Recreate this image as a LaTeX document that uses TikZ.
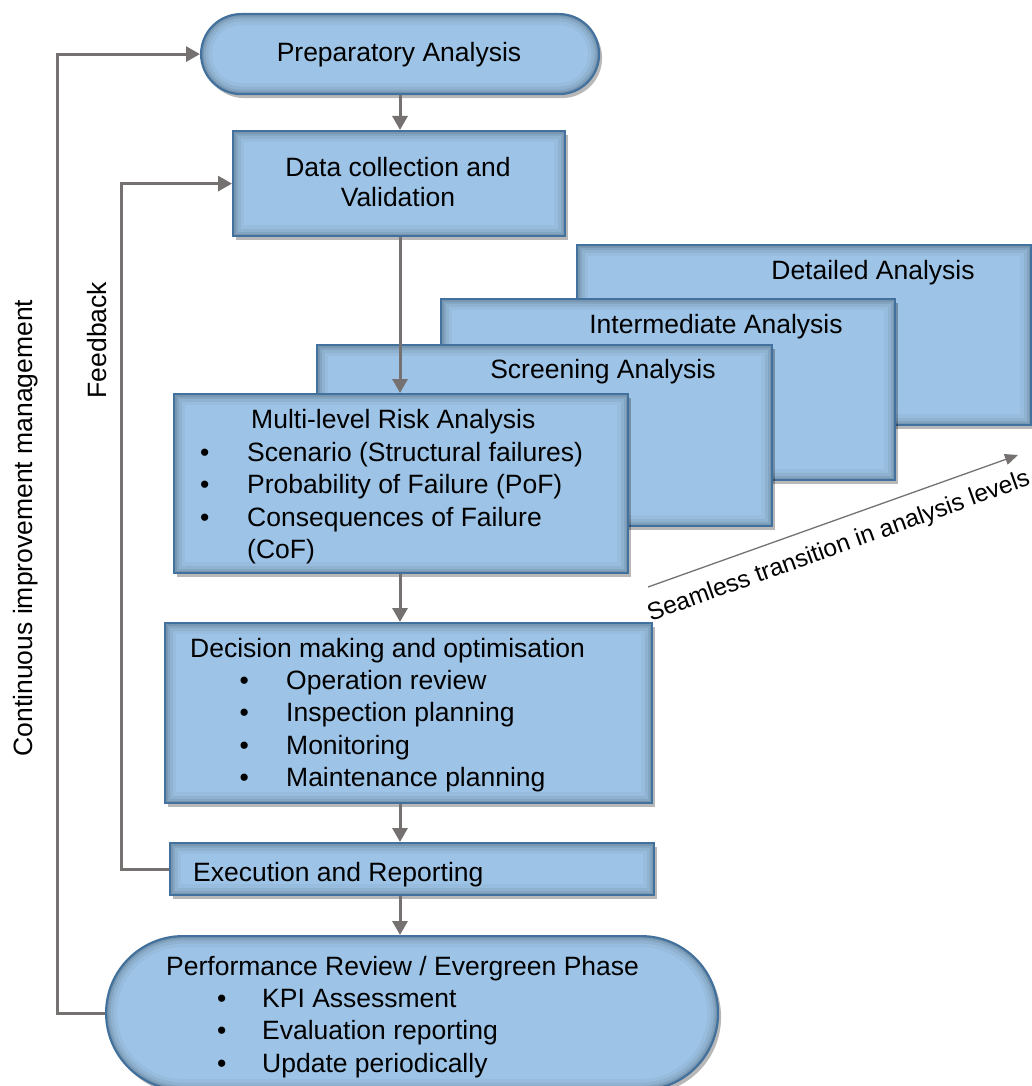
\documentclass[tikz,border=0pt]{standalone}
\usepackage{fontspec}
\setmainfont{Liberation Sans}
\usetikzlibrary{arrows.meta,shadows}
\definecolor{boxfill}{HTML}{9DC3E6}
\definecolor{boxline}{HTML}{41719C}
\definecolor{connector}{HTML}{767171}
\newcommand{\itembul}[1]{\makebox[#1][l]{\textbullet}}
\tikzset{
  innerglow/.style={path picture={
    \foreach \w/\o in {22/0.035,15/0.05,9/0.07,5/0.09}{
      \draw[line width=\w pt, black, opacity=\o, rounded corners=#1]
        (path picture bounding box.south west) rectangle (path picture bounding box.north east);}
  }},
  panel/.style={draw=boxline, line width=2.2pt, fill=boxfill, inner sep=0pt,
    anchor=north west, innerglow=#1,
    drop shadow={shadow xshift=3pt, shadow yshift=-4pt, opacity=0.28, fill=black}},
  panel/.default=0pt,
  txt/.style={inner sep=0pt, anchor=base west},
  ctxt/.style={inner sep=0pt, anchor=base},
  conn/.style={draw=connector, line width=3pt, -{Triangle[length=14pt,width=15pt]}},
  thinconn/.style={draw=connector, line width=1.3pt, -{Triangle[length=13pt,width=11pt]}},
}
\begin{document}
\begin{tikzpicture}[x=1pt,y=-1pt, every node/.style={font=\fontsize{26.5}{32.5}\selectfont}]
\useasboundingbox (0,0) rectangle (1032,1086);

% process boxes
\node[panel=40pt, rounded corners=40pt, minimum width=398pt, minimum height=80pt] (prep) at (200,13) {};
\node[panel, minimum width=332pt, minimum height=105pt] (data) at (232,130) {};
\node[panel, minimum width=454pt, minimum height=180pt] (detail) at (576,244) {};
\node[panel, minimum width=454pt, minimum height=181pt] (inter) at (440,298) {};
\node[panel, minimum width=455pt, minimum height=181pt] (screen) at (316,344) {};
\node[panel, minimum width=454pt, minimum height=179pt] (multi) at (173,393) {};
\node[panel, minimum width=487pt, minimum height=180pt] (decide) at (164,622) {};
\node[panel, minimum width=484pt, minimum height=52pt] (exec) at (169,842) {};
\node[panel=77pt, rounded corners=77pt, minimum width=612pt, minimum height=154pt] (perf) at (105,935) {};

% box texts
\node[ctxt] (prepT) at (399,62) {Preparatory Analysis};
\node[ctxt] (dataT1) at (398,177) {Data collection and};
\node[ctxt] (dataT2) at (398,207) {Validation};
\node[ctxt] (detailT) at (873,279) {Detailed Analysis};
\node[ctxt] (interT) at (716,333) {Intermediate Analysis};
\node[ctxt] (screenT) at (603,378) {Screening Analysis};

\node[txt] (multiT) at (251,428) {Multi-level Risk Analysis};
\node[txt] (multiA) at (200,461) {\itembul{47pt}Scenario (Structural failures)};
\node[txt] (multiB) at (200,493.5) {\itembul{47pt}Probability of Failure (PoF)};
\node[txt] (multiC) at (200,526) {\itembul{47pt}Consequences of Failure};
\node[txt] (multiD) at (247,558.5) {(CoF)};

\node[txt] (decideT) at (190,657) {Decision making and optimisation};
\node[txt] (decideA) at (239.5,689) {\itembul{46.5pt}Operation review};
\node[txt] (decideB) at (239.5,721.5) {\itembul{46.5pt}Inspection planning};
\node[txt] (decideC) at (239.5,754) {\itembul{46.5pt}Monitoring};
\node[txt] (decideD) at (239.5,786.5) {\itembul{46.5pt}Maintenance planning};

\node[txt] (execT) at (193,881) {Execution and Reporting};

\node[txt] (perfT) at (166,975) {Performance Review / Evergreen Phase};
\node[txt] (perfA) at (217,1007) {\itembul{45pt}KPI Assessment};
\node[txt] (perfB) at (217,1039.5) {\itembul{45pt}Evaluation reporting};
\node[txt] (perfC) at (217,1072) {\itembul{45pt}Update periodically};

% main flow
\coordinate (axis) at (400,0);
\draw[conn] (prep.south -| axis) -- (data.north -| axis);
\draw[conn] (data.south -| axis) -- (multi.north -| axis);
\draw[conn] (multi.south -| axis) -- (decide.north -| axis);
\draw[conn] (decide.south -| axis) -- (exec.north -| axis);
\draw[conn] (exec.south -| axis) -- (perf.north -| axis);

% loops
\draw[conn] (exec.west) -- ++(-48,0) |- (data.west);
\draw[conn] (perf.west) -- ++(-48,0) |- (prep.west);

\node[ctxt, rotate=90] (fbT) at (106,340) {Feedback};
\node[ctxt, rotate=90] (ciT) at (32,528) {Continuous improvement management};

% level transition arrow
\coordinate (levA) at (648,587);
\coordinate (levB) at (1018,455);
\draw[thinconn] (levA) -- (levB);
\node[ctxt, rotate=19.8, font=\fontsize{24.5}{29}\selectfont] (levT) at (841,553) {Seamless transition in analysis levels};
\end{tikzpicture}
\end{document}
